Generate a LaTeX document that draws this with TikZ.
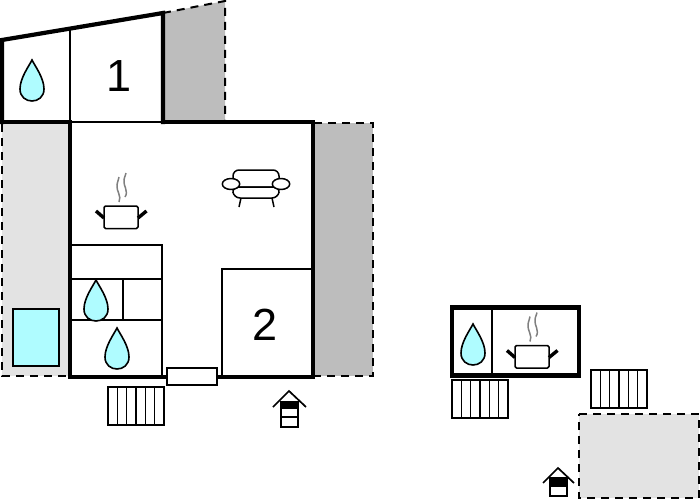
\documentclass[tikz,border=0pt]{standalone}
\usepackage{fontspec}
\setmainfont{Liberation Sans}
\definecolor{water}{HTML}{AFFCFF}
\definecolor{lightarea}{HTML}{E3E3E3}
\definecolor{darkarea}{HTML}{BDBDBD}
\definecolor{steamgray}{HTML}{808080}
\tikzset{
  thickwall/.style={line width=4.2pt,line cap=rect},
  thinwall/.style={line width=2pt},
  hairwall/.style={line width=1.5pt},
  dashedge/.style={line width=2pt,dash pattern=on 8pt off 6pt},
  icon/.style={line width=1.5pt,line join=round},
  numlabel/.style={font=\fontsize{45}{45}\selectfont,inner sep=0pt},
  pics/drop/.style={code={
    \draw[line width=1.6pt,fill=water] (0,0) .. controls (-3,6) and (-12,18) .. (-12,29)
      .. controls (-12,37) and (-6,41) .. (0,41)
      .. controls (6,41) and (12,37) .. (12,29)
      .. controls (12,18) and (3,6) .. (0,0) -- cycle;
  }},
  pics/pot/.style={code={
    \draw[icon,rounded corners=1.5pt] (0,0) rectangle (34,22.5);
    \draw[line width=3.4pt] (-8,5) -- (0,12);
    \draw[line width=3.4pt] (42.5,5) -- (34,12);
    \draw[steamgray,line width=1.5pt] (15,-4) .. controls (18,-10) and (12,-15) .. (13,-21) .. controls (13.5,-25) and (15,-27) .. (15,-29);
    \draw[steamgray,line width=1.5pt] (21,-9) .. controls (25,-15) and (19,-20) .. (20,-26) .. controls (20.5,-30) and (22,-31) .. (22,-33);
  }},
  pics/stairs/.style={code={
    \draw[line width=1.6pt] (0,0) rectangle (56,38);
    \foreach \tx in {9.5,18.5,28,37.5,46.5} \draw[line width=1.6pt] (\tx,0) -- (\tx,38);
  }}
}
\begin{document}
\begin{tikzpicture}[x=1pt,y=-1pt]
\useasboundingbox (0,0) rectangle (700,500);
% outdoor areas
\fill[lightarea] (2,123) rectangle (70,376);
\fill[darkarea] (163,13) -- (225,1) -- (225,121) -- (163,121) -- cycle;
\fill[darkarea] (314,123) rectangle (373,376);
\fill[lightarea] (579,414) rectangle (699,498);
\draw[dashedge] (2,124) -- (2,376) -- (66,376);
\draw[dashedge] (163,13) -- (225,1) -- (225,121);
\draw[dashedge] (314,123) -- (373,123) -- (373,376) -- (314,376);
\draw[dashedge] (579,414) -- (699,414) -- (699,498) -- (579,498) -- cycle;
% pool
\draw[line width=2pt,fill=water] (13,309) rectangle (59,366);
% rooms inside main house
\draw[hairwall] (70,29) -- (70,122);
\draw[hairwall] (70,122) -- (163,122);
\draw[thinwall] (71,245) -- (162,245) -- (162,377);
\draw[thinwall] (71,279) -- (162,279);
\draw[thinwall] (71,320) -- (162,320);
\draw[thinwall] (123,279) -- (123,320);
\draw[thinwall] (222,377) -- (222,269) -- (313,269);
% main walls
\draw[thickwall] (2,122) -- (2,40) -- (163,13) -- (163,122);
\draw[thickwall] (2,122) -- (70,122);
\draw[thickwall] (163,122) -- (313,122) -- (313,377) -- (70,377) -- (70,122);
% door
\draw[thinwall,fill=white] (167,368) rectangle (217,385);
% icons
\pic at (32,60) {drop};
\pic at (96,280) {drop};
\pic at (117,328) {drop};
\pic at (473,324) {drop};
\pic at (104,206) {pot};
\pic at (515,345.5) {pot};
\pic at (108,387) {stairs};
\pic at (452,380) {stairs};
\pic at (591,370) {stairs};
% sofa
\draw[icon,rounded corners=6pt] (233,187) -- (233,170) -- (279,170) -- (279,187) -- cycle;
\draw[icon,fill=white,rounded corners=6pt] (232,187) -- (234,198) -- (278,198) -- (280,187) -- cycle;
\draw[icon,fill=white] (231,184) ellipse [x radius=8.7,y radius=5.5];
\draw[icon,fill=white] (281,184) ellipse [x radius=8.7,y radius=5.5];
\draw[icon] (241,198) -- (239,207);
\draw[icon] (272,198) -- (274,207);
% entrance markers
\draw[line width=1.5pt,fill=white] (281,402) rectangle (298,427);
\fill (281,402) rectangle (298,409);
\draw[line width=1.5pt] (281,417) -- (298,417);
\draw[line width=1.7pt] (273,407) -- (289,391) -- (306,407);
\draw[line width=1.5pt,fill=white] (550,478) rectangle (567,496);
\fill (550,478) rectangle (567,487);
\draw[line width=1.7pt] (543,483) -- (558,468) -- (574,483);
% second house
\draw[line width=1.6pt] (492,307) -- (492,376);
\draw[line width=4.2pt] (452,307.5) rectangle (579,375.5);
% labels
\node[numlabel] (one) at (119,76) {1};
\node[numlabel] (two) at (265.5,325) {2};
\end{tikzpicture}
\end{document}
